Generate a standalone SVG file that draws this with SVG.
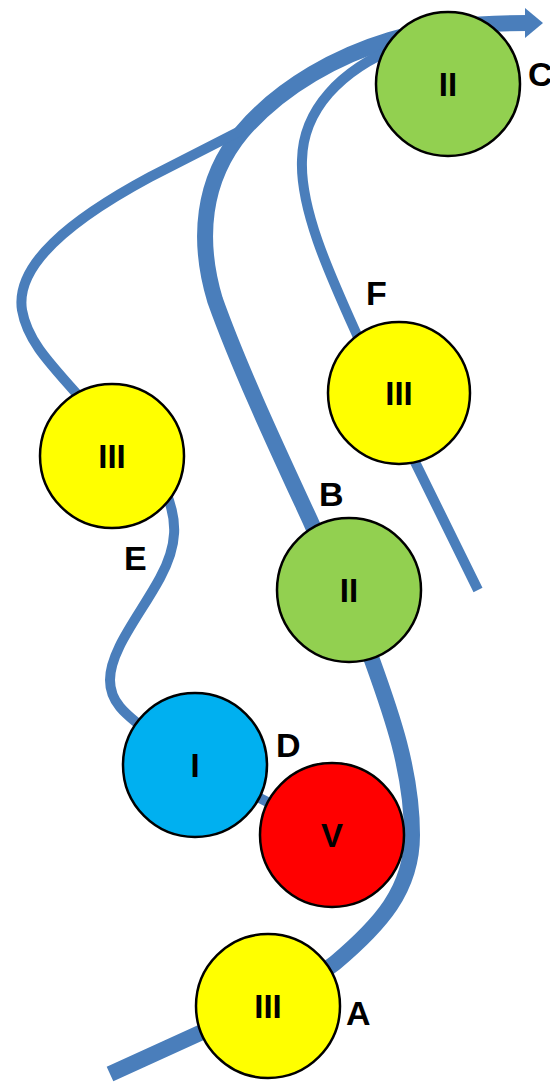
<svg xmlns="http://www.w3.org/2000/svg" width="550" height="1084" viewBox="0 0 550 1084">
<style>
.ln{fill:none;stroke:#4A7EBB;stroke-linejoin:round}
.thin{stroke-width:10}
.thick{stroke-width:16}
.c{stroke:#000;stroke-width:2.5}
.t{font-family:"Liberation Sans",Arial,sans-serif;font-weight:bold;font-size:33px;text-anchor:middle;fill:#000}
.lb{font-family:"Liberation Sans",Arial,sans-serif;font-weight:bold;font-size:34px;fill:#000}
</style>
<rect width="550" height="1084" fill="#fff"/>
<g id="connectors">
<path class="ln thick" d="M110,1074 L200,1033 C265,1003 300,990 335,963 C380,925 412,890 412,835 C412,770 390,710 372,660 L310,520 C280,455 240,370 215,300 C197,240 202,180 242,132 C282,85 340,55 390,40 C430,28 470,23 528,23"/>
<polygon points="525,8 543,23 525,38" fill="#4A7EBB"/>
<path class="ln thin" d="M244,129 L150,177 C70,220 15,265 22,310 C28,345 55,368 100,420"/>
<path class="ln thin" d="M165,490 C178,520 178,545 160,578 C140,615 110,650 110,680 C110,700 120,712 160,740"/>
<path class="ln thin" d="M195,765 L332,835"/>
<path class="ln thin" d="M478,590 L415,462 L357,335 C330,275 300,210 302,160 C303,110 340,70 400,46"/>
</g>
<g id="C"><circle class="c" cx="448" cy="84" r="72" fill="#92D050"/><text class="t" x="448" y="96">II</text></g>
<g id="F"><circle class="c" cx="399" cy="393" r="71" fill="#FFFF00"/><text class="t" x="399" y="405">III</text></g>
<g id="E"><circle class="c" cx="112" cy="456" r="72" fill="#FFFF00"/><text class="t" x="112" y="468">III</text></g>
<g id="B"><circle class="c" cx="349" cy="590" r="72" fill="#92D050"/><text class="t" x="349" y="602">II</text></g>
<g id="D1"><circle class="c" cx="195" cy="765" r="72" fill="#00B0F0"/><text class="t" x="195" y="777">I</text></g>
<g id="D2"><circle class="c" cx="332" cy="835" r="72" fill="#FF0000"/><text class="t" x="332" y="847">V</text></g>
<g id="A"><circle class="c" cx="268" cy="1006" r="72" fill="#FFFF00"/><text class="t" x="268" y="1018">III</text></g>
<g id="labels">
<text class="lb" x="528" y="86">C</text>
<text class="lb" x="366" y="305">F</text>
<text class="lb" x="319" y="506">B</text>
<text class="lb" x="124" y="570">E</text>
<text class="lb" x="276" y="757">D</text>
<text class="lb" x="346" y="1025">A</text>
</g>
</svg>
